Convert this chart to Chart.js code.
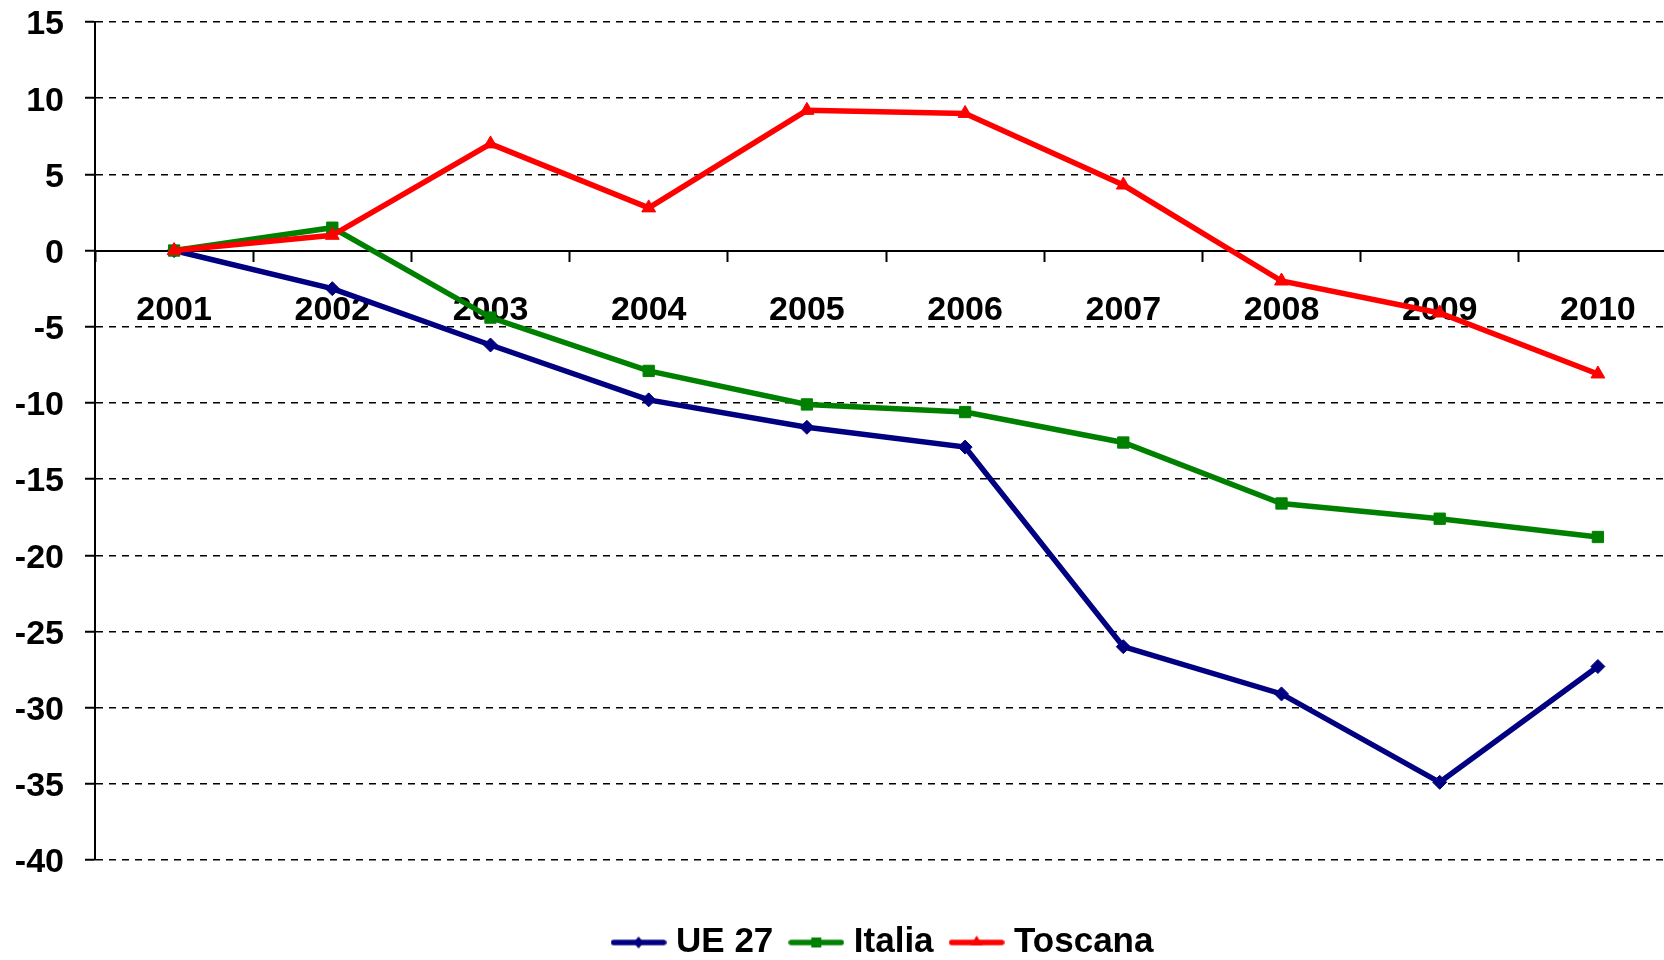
<!DOCTYPE html>
<html>
<head>
<meta charset="utf-8">
<title>UE 27 - Italia - Toscana</title>
<script src="https://cdn.jsdelivr.net/npm/chart.js"></script>
<style>
  html, body { margin: 0; padding: 0; background: #fff; overflow: hidden; }
  #wrap { width: 1664px; height: 960px; overflow: hidden; }
</style>
</head>
<body>
<div id="wrap">
  <canvas id="chart" width="1677" height="970"></canvas>
</div>
<script>
  // Data
  const years = ['2001', '2002', '2003', '2004', '2005', '2006', '2007', '2008', '2009', '2010'];
  const ue27 = [0, -2.5, -6.2, -9.8, -11.6, -12.9, -26.0, -29.1, -34.9, -27.3];
  const italia = [0, 1.5, -4.4, -7.9, -10.1, -10.6, -12.6, -16.6, -17.6, -18.8];
  const toscana = [0, 1.0, 7.0, 2.8, 9.2, 9.0, 4.3, -2.0, -4.1, -8.1];
  const yMin = -40;
  const yMax = 15;
  const yStep = 5;

  const FONT = "'Liberation Sans', Arial, sans-serif";
  const NAVY = '#000080';
  const GREEN = '#008000';
  const RED = '#ff0000';

  // small line + marker picture for the legend entries
  function legendIcon(color, shape) {
    const c = document.createElement('canvas');
    c.width = 56;
    c.height = 18;
    const ctx = c.getContext('2d');
    ctx.strokeStyle = color;
    ctx.fillStyle = color;
    ctx.lineWidth = 5.5;
    ctx.lineCap = 'round';
    ctx.beginPath();
    ctx.moveTo(3, 9);
    ctx.lineTo(53, 9);
    ctx.stroke();
    ctx.beginPath();
    if (shape === 'diamond') {
      ctx.moveTo(28, 3); ctx.lineTo(33, 9); ctx.lineTo(28, 15); ctx.lineTo(23, 9);
    } else if (shape === 'square') {
      ctx.rect(23, 4, 10, 10);
    } else {
      ctx.moveTo(28, 2); ctx.lineTo(34, 12); ctx.lineTo(22, 12);
    }
    ctx.closePath();
    ctx.fill();
    return c;
  }

  const icons = [legendIcon(NAVY, 'diamond'), legendIcon(GREEN, 'square'), legendIcon(RED, 'triangle')];

  const ctx = document.getElementById('chart').getContext('2d');
  new Chart(ctx, {
    type: 'line',
    data: {
      labels: years,
      datasets: [
        {
          label: 'UE 27',
          data: ue27,
          borderColor: NAVY,
          backgroundColor: NAVY,
          borderWidth: 5.5,
          pointStyle: 'rectRot',
          pointRadius: 7,
          pointBorderWidth: 1,
          tension: 0,
          order: 3
        },
        {
          label: 'Italia',
          data: italia,
          borderColor: GREEN,
          backgroundColor: GREEN,
          borderWidth: 5.5,
          pointStyle: 'rect',
          pointRadius: 8,
          pointBorderWidth: 1,
          tension: 0,
          order: 2
        },
        {
          label: 'Toscana',
          data: toscana,
          borderColor: RED,
          backgroundColor: RED,
          borderWidth: 5.5,
          pointStyle: 'triangle',
          pointRadius: 8,
          pointBorderWidth: 1,
          tension: 0,
          order: 1
        }
      ]
    },
    options: {
      responsive: false,
      animation: false,
      layout: { autoPadding: false, padding: { top: 22, left: 0, right: 0, bottom: 0 } },
      scales: {
        x: {
          type: 'category',
          position: { y: 0 },
          offset: true,
          grid: {
            offset: true,
            drawOnChartArea: false,
            drawTicks: true,
            tickLength: 10,
            tickWidth: 2,
            tickColor: '#000'
          },
          border: { display: true, color: '#000', width: 2 },
          ticks: {
            color: '#000',
            font: { family: FONT, size: 34, weight: 'bold' },
            padding: 30,
            maxRotation: 0,
            autoSkip: false
          },
          afterFit(scale) {
            // plot runs right up to the canvas edge
            scale.paddingLeft = 0;
            scale.paddingRight = 0;
          }
        },
        y: {
          min: yMin,
          max: yMax,
          ticks: {
            stepSize: yStep,
            color: '#000',
            font: { family: FONT, size: 34, weight: 'bold' },
            padding: 21,
            labelOffset: 3
          },
          grid: {
            color: '#000',
            lineWidth: 1.5,
            tickLength: 10,
            tickWidth: 2,
            tickColor: '#000'
          },
          border: { display: true, color: '#000', width: 2, dash: [7, 6] },
          afterFit(scale) {
            scale.width = 95;
            // keep the plot top where the layout padding puts it
            scale.paddingTop = 0;
            scale.paddingBottom = 0;
          }
        }
      },
      plugins: {
        tooltip: { enabled: false },
        legend: {
          position: 'bottom',
          fullSize: false,
          title: { display: true, text: '', padding: { top: 32, bottom: 0 }, font: { size: 10, lineHeight: 1 } },
          labels: {
            color: '#000',
            font: { family: FONT, size: 35, weight: 'bold' },
            usePointStyle: true,
            pointStyleWidth: 40,
            padding: 23,
            sort: (a, b) => a.datasetIndex - b.datasetIndex,
            generateLabels(chart) {
              const items = Chart.defaults.plugins.legend.labels.generateLabels(chart);
              items.forEach(it => { it.pointStyle = icons[it.datasetIndex]; });
              return items;
            }
          }
        }
      }
    }
  });
</script>
</body>
</html>
